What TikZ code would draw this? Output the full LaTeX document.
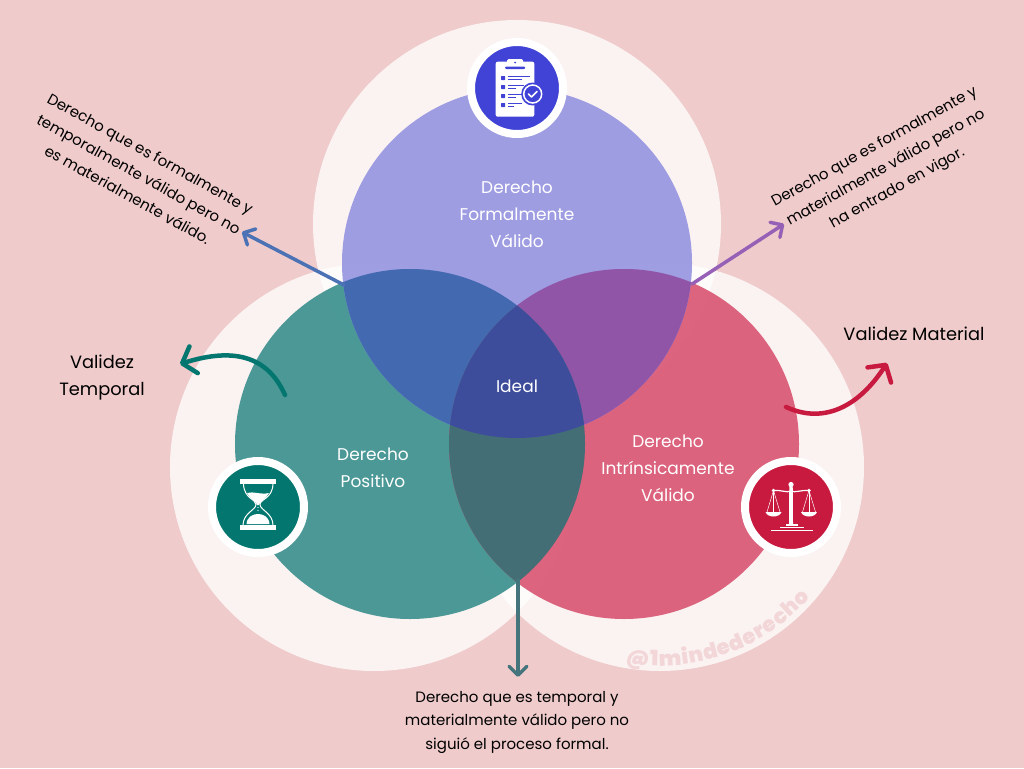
\documentclass[tikz,border=0pt]{standalone}
\usepackage{fontspec}
\setmainfont{Poppins}
\newfontfamily\stampfont{Poppins Black}
\usetikzlibrary{arrows.meta,decorations.text}
\definecolor{BackRose}{HTML}{EFCBCB}
\definecolor{PlanTop}{HTML}{9594E1}
\definecolor{PlanLeft}{HTML}{388F8C}
\definecolor{PlanRight}{HTML}{D95472}
\definecolor{MixTopLeft}{HTML}{436AB0}
\definecolor{MixTopRight}{HTML}{9155A8}
\definecolor{MixLeftRight}{HTML}{446E75}
\definecolor{MixAll}{HTML}{3D4D9B}
\definecolor{IconBlue}{HTML}{4043D6}
\definecolor{IconTeal}{HTML}{03776F}
\definecolor{IconRed}{HTML}{C8193F}
\definecolor{ArrowBlue}{HTML}{4A72B5}
\definecolor{ArrowPurple}{HTML}{9560B5}
\definecolor{ArrowSlate}{HTML}{44757C}
\definecolor{StampRose}{HTML}{F3D6D8}
\begin{document}
\begin{tikzpicture}[x=1pt,y=-1pt,
  halo/.style={fill=white, fill opacity=0.76},
  disk/.style={fill=#1, fill opacity=0.9},
  iconring/.style={circle, draw=white, fill=#1, line width=8pt, minimum size=92pt, inner sep=0pt},
  tag/.style={text=white, align=center, font=\fontsize{17}{27}\selectfont},
  side/.style={text=black, align=center, font=\fontsize{17.8}{27}\selectfont},
  note/.style={text=black, align=center, font=\fontsize{15}{23.5}\selectfont},
  link/.style={draw=#1, line width=3.5pt, line cap=round, -{Straight Barb[length=9pt,width=18pt,round]}},
  swoop/.style={draw=#1, line width=4.5pt, line cap=round, -{Straight Barb[length=12pt,width=28pt,round]}},
]
\fill[BackRose] (0,0) rectangle (1024,768);
\useasboundingbox (0,0) rectangle (1024,768);
% halos
\foreach \x/\y in {517/224, 374/467, 660/467}{
  \fill[halo] (\x,\y) circle[radius=204pt];
}
% circles
\fill[disk=PlanLeft] (410,444) circle[radius=175pt];
\fill[disk=PlanRight] (624,444) circle[radius=175pt];
\fill[disk=PlanTop] (517,263) circle[radius=175pt];
\begin{scope}
  \clip (517,263) circle[radius=175pt];
  \fill[MixTopLeft] (410,444) circle[radius=175pt];
  \fill[MixTopRight] (624,444) circle[radius=175pt];
\end{scope}
\begin{scope}
  \clip (410,444) circle[radius=175pt];
  \fill[MixLeftRight] (624,444) circle[radius=175pt];
  \clip (624,444) circle[radius=175pt];
  \fill[MixAll] (517,263) circle[radius=175pt];
\end{scope}
% labels in the circles
\node[tag] (formal) at (517,214) {Derecho\\Formalmente\\Válido};
\node[tag] (positivo) at (373,468) {Derecho\\Positivo};
\node[tag] (intrinseco) at (668,468) {Derecho\\Intrínsicamente\\Válido};
\node[tag] (ideal) at (517,386) {Ideal};
\node[side] (temporal) at (102,378) {Validez\\Temporal};
\node[side] (material) at (914,334) {Validez Material};
\node[note, rotate=-29] (notaleft) at (139,174) {Derecho que es formalmente y\\temporalmente válido pero no\\es materialmente válido.};
\node[note, rotate=29] (notaright) at (886,168) {Derecho que es formalmente y\\materialmente válido pero no\\ha entrado en vigor.};
\node[note] (notabottom) at (517,722) {Derecho que es temporal y\\materialmente válido pero no\\siguió el proceso formal.};
% connectors
\coordinate (leftstart) at (344,285);
\coordinate (leftend) at (242,232);
\coordinate (rightstart) at (692,284);
\coordinate (rightend) at (784,224);
\coordinate (downstart) at (518,580);
\coordinate (downend) at (518,677);
\coordinate (timestart) at (285,395);
\coordinate (timeend) at (180,364);
\coordinate (matstart) at (786,407);
\coordinate (matend) at (887,363);
\draw[link=ArrowBlue] (leftstart) -- (leftend);
\draw[link=ArrowPurple] (rightstart) -- (rightend);
\draw[link=ArrowSlate] (downstart) -- (downend);
\draw[swoop=IconTeal] (timestart) .. controls (265,350) and (225,350) .. (timeend);
\draw[swoop=IconRed] (matstart) .. controls (825,425) and (860,405) .. (matend);
% watermark
\path[decorate, decoration={text along path, text align=fit to path,
  text={|\stampfont\fontsize{21}{21}\selectfont\color{StampRose}|@1mindederecho}}]
  (625.4,663) .. controls (694.2,675.1) and (764.4,650.3) .. (810.2,597.6);
% plan icon
\node[iconring=IconBlue] (iconplan) at (517,88) {};
\begin{scope}[shift={(517,88)}]
  \fill[white, rounded corners=2pt] (-21.3,-26.3) rectangle (17.3,28.7);
  \fill[white, rounded corners=1.5pt] (-14,-23) rectangle (10,-17);
  \fill[white, rounded corners=1.5pt] (-10,-29) rectangle (6,-22);
  \fill[IconBlue, rounded corners=1pt] (-12,-21.5) rectangle (8,-19);
  \fill[IconBlue] (-2,-25.5) circle[radius=1pt];
  \foreach \y/\l in {-10/9, -1/3, 8/3, 17/1}{
    \fill[IconBlue, rounded corners=0.5pt] (-16,\y-2) rectangle (-12,\y+2);
    \draw[IconBlue, line width=1pt] (-9,\y-2) -- (\l+4,\y-2);
    \draw[IconBlue, line width=1pt] (-9,\y+1) -- (\l-4,\y+1);
  }
  \fill[IconBlue] (15.7,6) circle[radius=11.5pt];
  \draw[white, line width=1.5pt] (15.7,6) circle[radius=9pt];
  \draw[white, line width=1.6pt, line cap=round, line join=round] (11.5,6) -- (14.5,9) -- (20,3.5);
\end{scope}
% hourglass icon
\node[iconring=IconTeal] (icontime) at (258,507) {};
\begin{scope}[shift={(258,507)}]
  \fill[white] (-17.7,-27.7) rectangle (18,-23.3);
  \fill[white] (-17.7,18.3) rectangle (18,23.3);
  \draw[white, line width=1pt] (-14.5,-23.3) .. controls (-14,-8) and (-2,-8) .. (-2,-2.5)
    .. controls (-2,3) and (-15,6) .. (-15,18.3);
  \draw[white, line width=1pt] (15,-23.3) .. controls (14.5,-8) and (2,-8) .. (2,-2.5)
    .. controls (2,3) and (15,6) .. (15,18.3);
  \fill[white] (-11,-14) .. controls (-5,-16) and (3,-12) .. (11,-14)
    .. controls (8,-8) and (2,-6) .. (0.8,-2) -- (-0.8,-2) .. controls (-2,-6) and (-8,-8) .. (-11,-14) -- cycle;
  \fill[white] (-11.5,17) .. controls (-11,9) and (-4,7) .. (0,7) .. controls (4,7) and (11,9) .. (11.5,17) -- cycle;
  \foreach \y in {0.5,3.5}{
    \fill[white] (0,\y) circle[radius=0.6pt];
  }
\end{scope}
% scales icon
\node[iconring=IconRed] (iconscale) at (791,507) {};
\begin{scope}[shift={(791,507)}]
  \fill[white] (-1.7,-24) -- (1.7,-24) -- (2,17) -- (-2,17) -- cycle;
  \fill[white] (0,-22.5) circle[radius=2.6pt];
  \draw[white, line width=1.2pt] (-17.5,-16.5) .. controls (-8,-17) and (-5,-14) .. (0,-16) .. controls (5,-14) and (8,-17) .. (18,-16.5);
  \fill[white] (-17.5,-16.5) circle[radius=1.8pt];
  \fill[white] (18,-16.5) circle[radius=1.8pt];
  \foreach \c in {-17.5,18}{
    \draw[white, line width=0.5pt] (\c-6.5,5) -- (\c,-16.5) -- (\c+6.5,5);
    \draw[white, line width=0.5pt] (\c,-16.5) -- (\c,5);
    \fill[white] (\c-8,5) .. controls (\c-6,11) and (\c+6,11) .. (\c+8,5) -- cycle;
  }
  \fill[white] (-5.5,17) rectangle (6.5,18.5);
  \fill[white] (-11.5,19.5) rectangle (12.5,21);
  \fill[white] (-20.5,22.5) rectangle (22,24);
\end{scope}
\end{tikzpicture}
\end{document}
